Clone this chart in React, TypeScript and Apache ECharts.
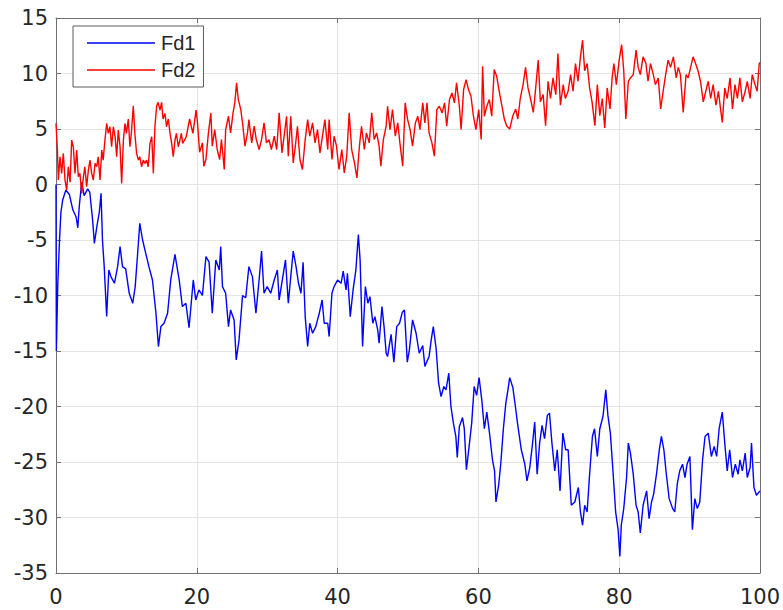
import React, { useEffect, useRef } from "react";
import * as echarts from "echarts";

const seriesNames = ["Fd1", "Fd2"];

const fd1: [number, number][] = [
  [0, 0], [0.05, -15], [0.25, -9], [0.5, -5], [0.7, -2.5], [0.95, -1.4], [1.4, -0.5], [1.9, -0.9], [2.4, -2.3], [2.85, -2.9],
  [3.1, -3.9], [3.3, -2], [3.65, 0.2], [4, -1], [4.5, -0.4], [4.8, -0.7], [5.2, -3.2], [5.45, -5.3], [5.8, -3.8], [6.15, -2.5],
  [6.4, -0.8], [6.6, -5], [6.85, -7.4], [7.2, -11.9], [7.5, -7.7], [7.8, -8.3], [8.3, -8.9], [8.75, -7.4], [9.1, -5.6], [9.45, -7.4],
  [9.9, -7.6], [10.4, -9.8], [10.9, -10.7], [11.25, -9.2], [11.6, -6.2], [11.9, -3.5], [12.3, -5], [12.75, -6.2], [13.2, -7.4], [13.7, -8.6],
  [14.2, -11.6], [14.55, -14.6], [14.9, -12.8], [15.35, -12.5], [15.85, -11.6], [16.3, -8.6], [16.9, -6.3], [17.5, -8.6], [17.95, -11], [18.45, -10.7],
  [18.9, -12.9], [19.5, -8.6], [19.85, -10.4], [20.3, -9.5], [20.8, -10], [21.3, -6.5], [21.75, -7], [22.2, -11.6], [22.7, -6.8], [23.2, -7.7],
  [23.4, -5.6], [23.65, -9.2], [24.1, -9.8], [24.5, -12.8], [24.8, -11.3], [25.3, -12.2], [25.6, -15.8], [26, -14], [26.5, -10], [26.95, -10.2],
  [27.4, -7.4], [27.9, -8.3], [28.4, -11.6], [28.85, -8.6], [29.2, -6], [29.55, -9.8], [30, -9.2], [30.5, -9.8], [31, -8.6], [31.45, -7.7],
  [31.7, -10.4], [32.15, -8.6], [32.6, -6.8], [33, -10.7], [33.35, -8.3], [33.7, -6], [34.1, -7.4], [34.45, -8.9], [34.8, -9.8], [35.1, -7],
  [35.4, -11.9], [35.75, -14.6], [36.05, -12.5], [36.45, -13.4], [36.9, -12.8], [37.4, -11.6], [37.8, -10.4], [38.1, -12.5], [38.6, -12.5], [38.8, -13.7],
  [39.2, -9.8], [39.5, -9.2], [40, -8.6], [40.5, -8.9], [40.8, -7.8], [41.2, -9.5], [41.4, -8], [41.8, -11.9], [42.2, -9.5], [42.6, -7.7],
  [42.95, -4.5], [43.2, -6.8], [43.55, -14.6], [43.95, -9.2], [44.3, -10.7], [44.6, -10.1], [45, -12.5], [45.3, -11.9], [45.7, -13.1], [45.9, -14.3],
  [46.3, -11], [46.6, -12.8], [46.9, -15.2], [47.1, -15.5], [47.6, -13.5], [48, -16], [48.4, -12.8], [48.8, -12.5], [49.2, -11.5], [49.5, -11.3],
  [49.9, -16], [50.2, -14.9], [50.65, -12.2], [51.15, -13.4], [51.6, -15.2], [52.1, -14.5], [52.4, -16.4], [52.65, -16], [53, -15.5], [53.3, -14],
  [53.6, -12.8], [54, -14.8], [54.35, -17.9], [54.7, -19.1], [55.1, -18.2], [55.4, -18.5], [55.8, -17], [56.1, -20], [56.45, -21.5], [56.8, -22.7],
  [57, -24.6], [57.3, -21.8], [57.75, -21], [58, -22], [58.3, -25.7], [58.7, -23.5], [59.05, -21.5], [59.4, -18.2], [59.75, -19], [60.1, -17.4],
  [60.5, -19.5], [60.85, -22], [61.2, -20.5], [61.6, -22.5], [62, -24.8], [62.3, -25.8], [62.5, -28.6], [62.9, -27], [63.2, -25], [63.55, -22],
  [63.9, -19.7], [64.2, -18.5], [64.45, -17.4], [64.9, -18.3], [65.3, -20.2], [65.6, -21.7], [66.1, -23.9], [66.6, -25.2], [66.9, -26.7], [67.3, -25.5],
  [67.7, -23.3], [68, -21.4], [68.35, -26.1], [68.7, -23.3], [69.05, -21.7], [69.4, -22.9], [69.8, -20.8], [70.1, -20.6], [70.45, -23.3], [70.85, -25.8],
  [71.2, -23.9], [71.6, -27.6], [72, -22.4], [72.4, -23.9], [72.75, -23.9], [73.2, -28.9], [73.7, -28.6], [74.2, -27.3], [74.5, -29.5], [74.8, -30.7],
  [75.1, -28.9], [75.45, -29.5], [75.8, -26.1], [76.2, -22.7], [76.5, -22], [76.9, -24.5], [77.25, -22], [77.7, -20.9], [78.1, -18.5], [78.4, -20.8],
  [78.75, -22.4], [79.15, -26.1], [79.5, -29.5], [79.85, -31.1], [80.1, -33.5], [80.3, -30.7], [80.65, -29.2], [81.05, -26.4], [81.3, -23.3], [81.6, -24.2],
  [82, -26.1], [82.4, -28.9], [82.7, -29.5], [83, -31.4], [83.4, -28.9], [83.9, -27.6], [84.25, -30.1], [84.6, -28.6], [84.9, -27.9], [85.3, -26.1],
  [85.7, -23.9], [86, -22.7], [86.35, -23.9], [86.7, -26.1], [87.1, -28.3], [87.6, -29.2], [87.9, -29.5], [88.25, -27], [88.6, -25.8], [89, -25.2],
  [89.35, -26.4], [89.65, -25.2], [90.05, -24.5], [90.4, -31.1], [90.75, -28.3], [91.1, -29.2], [91.45, -28.6], [91.85, -24.8], [92.2, -22.7], [92.65, -22.4],
  [93.1, -24.5], [93.5, -23.6], [93.85, -24.5], [94.2, -22], [94.65, -20.5], [95, -23.3], [95.35, -25.8], [95.7, -23.9], [96.1, -26.4], [96.5, -25.2],
  [96.9, -26.1], [97.15, -24.8], [97.5, -25.8], [97.9, -24.2], [98.2, -26.4], [98.6, -25.5], [98.8, -23.3], [99.15, -27.3], [99.5, -28], [100, -27.6],
];

const fd2: [number, number][] = [
  [0, 5.5], [0.2, 3.1], [0.33, 0.4], [0.57, 2.5], [0.8, 1], [1.04, 2.8], [1.28, 0.4], [1.52, -0.5], [1.75, 1.6], [2, 0.2],
  [2.23, 4], [2.46, 3.4], [2.7, 1], [2.94, 3.1], [3.17, 0.7], [3.4, 1], [3.65, -0.8], [3.9, 0.7], [4.1, 1.6], [4.35, -0.2],
  [4.6, 1.3], [4.83, 2.2], [5.07, 1], [5.3, 0.4], [5.55, 1.9], [5.78, 1.6], [6, 2.5], [6.25, 0.4], [6.5, 3.1], [6.7, 2.2],
  [6.95, 4], [7.2, 5.5], [7.43, 4.6], [7.67, 5.2], [7.9, 3.4], [8.15, 5.2], [8.4, 4.3], [8.62, 2.5], [8.85, 4.9], [9.1, 3.4],
  [9.33, 0.1], [9.57, 4], [9.8, 5.5], [10, 4.6], [10.27, 5.9], [10.5, 3.4], [10.7, 4.6], [10.98, 7.1], [11.2, 4.6], [11.45, 2.8],
  [11.7, 2.2], [11.9, 2.5], [12.16, 1.6], [12.4, 2.2], [12.63, 1.9], [12.87, 2.2], [13.1, 1.6], [13.35, 3.7], [13.6, 4.3], [13.83, 1],
  [14.05, 5.2], [14.3, 7.1], [14.5, 7.4], [14.77, 6.7], [15, 7.4], [15.2, 5.9], [15.48, 6.4], [15.7, 5.2], [15.95, 5.9], [16.2, 4.6],
  [16.43, 3.7], [16.66, 2.5], [16.9, 4], [17.1, 4.6], [17.37, 3.4], [17.6, 4], [17.8, 4.6], [18, 3.7], [18.5, 4.3], [18.98, 5.9],
  [19.45, 4.6], [19.9, 6.7], [20.1, 5.6], [20.4, 2.9], [20.8, 3.75], [21, 1.65], [21.3, 2.25], [21.65, 4.65], [22, 6.45], [22.2, 3.45],
  [22.55, 4.95], [22.9, 3.15], [23.25, 2.25], [23.5, 4.05], [23.9, 1.35], [24.1, 4.95], [24.5, 6.15], [24.8, 4.65], [25.15, 6.45], [25.4, 7.35],
  [25.65, 9.15], [25.9, 7.65], [26.25, 6.75], [26.5, 5.55], [26.85, 3.45], [27.2, 4.65], [27.4, 5.85], [27.8, 3.75], [28.15, 5.25], [28.45, 4.05],
  [28.85, 3.15], [29.2, 4.05], [29.55, 5.55], [29.9, 3.75], [30.25, 4.05], [30.6, 3.15], [31, 4.35], [31.35, 3.15], [31.7, 6.45], [32.1, 2.85],
  [32.4, 4.35], [32.75, 6.15], [33, 2.55], [33.35, 6.15], [33.7, 1.95], [34, 3.45], [34.3, 5.25], [34.65, 2.25], [35, 1.35], [35.4, 4.05],
  [35.75, 5.85], [36.05, 4.35], [36.45, 5.55], [36.8, 3.75], [37.15, 4.95], [37.5, 2.85], [37.85, 4.35], [38.2, 5.85], [38.6, 3.15], [38.8, 5.85],
  [39.2, 2.25], [39.5, 4.35], [39.85, 3.45], [40.2, 1.35], [40.6, 3.15], [40.95, 1.05], [41.3, 2.55], [41.65, 6.45], [42, 3.15], [42.4, 1.95],
  [42.75, 0.6], [43.1, 3.45], [43.4, 5.25], [43.8, 3.15], [44.1, 4.65], [44.5, 3.75], [44.85, 6.45], [45.2, 4.05], [45.55, 4.65], [45.9, 3.45],
  [46.15, 1.65], [46.5, 4.05], [46.9, 5.25], [47.1, 7.05], [47.45, 4.95], [47.8, 6.75], [48.2, 4.35], [48.55, 5.55], [48.85, 3.75], [49.25, 1.65],
  [49.6, 7.35], [49.95, 5.85], [50.3, 4.95], [50.65, 3.45], [51.05, 5.55], [51.4, 6.15], [51.7, 4.95], [52.1, 7.35], [52.4, 5.55], [52.7, 7.35],
  [53, 4.65], [53.4, 3.75], [53.75, 2.55], [54.1, 6.75], [54.45, 7.05], [54.85, 6.45], [55.2, 7.35], [55.5, 5.25], [55.9, 7.65], [56.25, 8.25],
  [56.6, 7.35], [56.9, 9.15], [57.3, 7.05], [57.55, 4.95], [57.9, 8.55], [58.25, 9.45], [58.6, 8.55], [58.95, 7.95], [59.3, 6.15], [59.65, 4.95],
  [60.05, 6.75], [60.4, 4.05], [60.6, 10.65], [60.85, 6.15], [61.2, 7.05], [61.55, 7.65], [61.9, 6.15], [62.25, 10.35], [62.6, 9.75], [63, 8.25],
  [63.35, 7.05], [63.7, 5.85], [64.05, 5.25], [64.45, 5], [64.9, 6.2], [65.3, 6.8], [65.6, 5.9], [65.95, 7.75], [66.35, 9], [66.7, 10.55],
  [67.05, 8.7], [67.4, 7.75], [67.8, 6.5], [68.1, 8.4], [68.5, 11.2], [68.8, 7.45], [69.2, 8.1], [69.55, 5.3], [69.9, 9.3], [70.25, 7.75],
  [70.6, 9.6], [71, 8.1], [71.3, 11.8], [71.65, 7.15], [72.05, 9], [72.35, 7.75], [72.75, 8.4], [73.1, 9.9], [73.45, 8.4], [73.8, 10.9],
  [74.15, 9.3], [74.5, 11.5], [74.8, 13], [75.1, 10.25], [75.45, 10.9], [75.8, 8.7], [76.15, 7.45], [76.55, 5.3], [76.9, 9], [77.25, 6.2],
  [77.6, 7.75], [77.95, 5.1], [78.3, 8.7], [78.7, 6.8], [79, 9.6], [79.25, 10.9], [79.6, 9], [80, 11.2], [80.35, 12.6], [80.65, 10.25],
  [80.95, 5.9], [81.3, 9.3], [81.6, 9.6], [82, 9.9], [82.4, 12.1], [82.7, 10.55], [83, 9.9], [83.4, 11.5], [83.8, 10.9], [84.1, 9.3],
  [84.45, 10.9], [84.85, 9.9], [85.15, 9], [85.55, 9.6], [85.9, 6.8], [86.25, 8.4], [86.6, 9.9], [86.95, 11.2], [87.3, 10.55], [87.7, 11.5],
  [88.1, 9.6], [88.4, 10.55], [88.7, 9.9], [89.1, 6.5], [89.5, 9.9], [89.8, 9.6], [90.15, 10.55], [90.5, 11.5], [90.85, 10.9], [91.2, 10.25],
  [91.55, 9.3], [91.95, 7.45], [92.3, 8.4], [92.65, 9.3], [93, 7.75], [93.35, 9], [93.75, 7.15], [94.1, 8.4], [94.4, 6.8], [94.65, 5.6],
  [95, 8.7], [95.35, 7.75], [95.75, 9.6], [96.1, 6.8], [96.45, 9], [96.8, 7.75], [97.15, 9.6], [97.5, 7.45], [97.9, 8.4], [98.2, 9.3],
  [98.6, 7.75], [98.9, 9.9], [99.3, 9], [99.6, 8.4], [99.9, 10.9], [100, 11],
];

const xMin = 0;
const xMax = 100;
const xStep = 20;
const yMin = -35;
const yMax = 15;
const yStep = 5;

const AXIS_COLOR = "#707070";
const TEXT_COLOR = "#262626";
const GRID_COLOR = "#e4e4e4";
const TICK_FONT = "'DejaVu Sans', sans-serif";
const LEGEND_FONT = "'Liberation Sans', Arial, sans-serif";

export default function App() {
  const ref = useRef<HTMLDivElement>(null);
  useEffect(() => {
    const chart = echarts.init(ref.current!, null, { renderer: "svg" });
    const axisLine = { show: true, onZero: false, lineStyle: { color: AXIS_COLOR, width: 1 } };
    const axisTick = { show: true, inside: true, length: 5, lineStyle: { color: AXIS_COLOR, width: 1 } };
    chart.setOption({
      animation: false,
      backgroundColor: "#ffffff",
      grid: { left: 56, right: 23, top: 18, bottom: 37, containLabel: false },
      legend: {
        data: seriesNames,
        orient: "vertical",
        left: 73,
        top: 26,
        icon: "rect",
        itemWidth: 68,
        itemHeight: 1.3,
        itemGap: 7,
        padding: [7, 8, 7, 14],
        borderColor: "#5a5a5a",
        borderWidth: 1,
        backgroundColor: "#ffffff",
        textStyle: { fontSize: 20, fontFamily: LEGEND_FONT, color: TEXT_COLOR, padding: [0, 0, 0, 1] },
      },
      xAxis: [
        {
          type: "value", min: xMin, max: xMax, interval: xStep, position: "bottom",
          axisLine, axisTick,
          axisLabel: { color: TEXT_COLOR, fontSize: 21, fontFamily: TICK_FONT, margin: 13 },
          splitLine: { show: true, lineStyle: { color: GRID_COLOR, width: 1 } },
        },
        {
          type: "value", min: xMin, max: xMax, interval: xStep, position: "top",
          axisLine, axisTick, axisLabel: { show: false }, splitLine: { show: false },
        },
      ],
      yAxis: [
        {
          type: "value", min: yMin, max: yMax, interval: yStep, position: "left",
          axisLine, axisTick,
          axisLabel: { color: TEXT_COLOR, fontSize: 21, fontFamily: TICK_FONT, margin: 8 },
          splitLine: { show: true, lineStyle: { color: GRID_COLOR, width: 1 } },
        },
        {
          type: "value", min: yMin, max: yMax, interval: yStep, position: "right",
          axisLine, axisTick, axisLabel: { show: false }, splitLine: { show: false },
        },
      ],
      series: [
        {
          name: seriesNames[0], type: "line", data: fd1, symbol: "none", showSymbol: false,
          lineStyle: { color: "#0000ff", width: 1.4 }, itemStyle: { color: "#0000ff" },
          xAxisIndex: 0, yAxisIndex: 0, z: 3,
        },
        {
          name: seriesNames[1], type: "line", data: fd2, symbol: "none", showSymbol: false,
          lineStyle: { color: "#ff0000", width: 1.4 }, itemStyle: { color: "#ff0000" },
          xAxisIndex: 0, yAxisIndex: 0, z: 4,
        },
      ],
    });
    return () => chart.dispose();
  }, []);
  return (
    <div
      ref={ref}
      style={{ position: "fixed", left: 0, top: 0, width: 783, height: 610, background: "#fff" }}
    />
  );
}
